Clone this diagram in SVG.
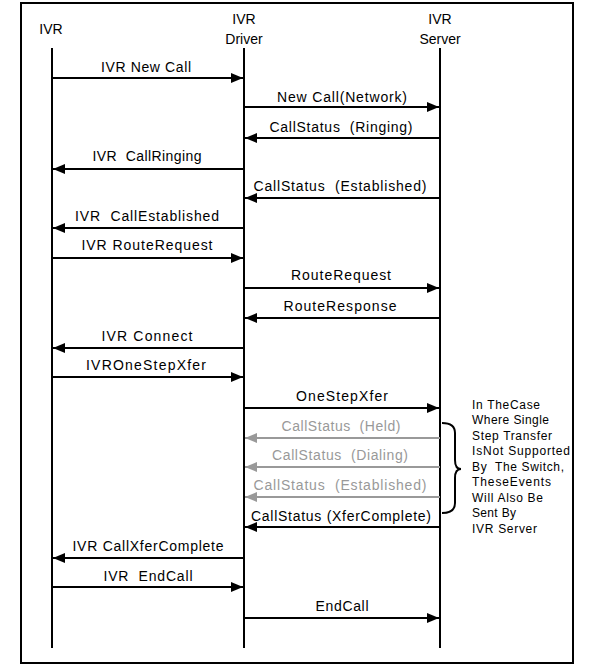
<svg xmlns="http://www.w3.org/2000/svg" width="601" height="667" viewBox="0 0 601 667">
<style>
text{font-family:"Liberation Sans",Arial,sans-serif;font-size:14px;fill:#000;white-space:pre}
.lbl{text-anchor:middle}
.g{fill:#999}
.note{font-size:12px}
.life{stroke:#000;stroke-width:2}
.a{stroke:#000;stroke-width:2;fill:none}
.ag{stroke:#999;stroke-width:2;fill:none}
</style>
<defs>
<marker id="ah" viewBox="0 0 12 10" refX="12" refY="5" markerWidth="12" markerHeight="10" markerUnits="userSpaceOnUse" orient="auto"><path d="M0,0 L12,5 L0,10 Z" fill="#000"/></marker>
<marker id="ahg" viewBox="0 0 12 10" refX="12" refY="5" markerWidth="12" markerHeight="10" markerUnits="userSpaceOnUse" orient="auto"><path d="M0,0 L12,5 L0,10 Z" fill="#999"/></marker>
</defs>
<rect x="21" y="3" width="552" height="660" fill="#fff" stroke="#000" stroke-width="2"/>
<g id="ivr">
<text class="lbl" x="51" y="34">IVR</text>
<line class="life" x1="52" y1="48" x2="52" y2="648"/>
</g>
<g id="driver">
<text class="lbl" x="244" y="24">IVR</text>
<text class="lbl" x="244" y="44">Driver</text>
<line class="life" x1="244" y1="48" x2="244" y2="648"/>
</g>
<g id="server">
<text class="lbl" x="440" y="24">IVR</text>
<text class="lbl" x="440" y="44">Server</text>
<line class="life" x1="440" y1="48" x2="440" y2="648"/>
</g>
<g id="connectors">
<line class="a" x1="52" y1="78" x2="243" y2="78" marker-end="url(#ah)"/>
<text class="lbl" x="146" y="72" textLength="90">IVR New Call</text>
<line class="a" x1="244" y1="107" x2="439" y2="107" marker-end="url(#ah)"/>
<text class="lbl" x="342" y="102" textLength="130">New Call(Network)</text>
<line class="a" x1="440" y1="138" x2="245" y2="138" marker-end="url(#ah)"/>
<text class="lbl" x="341" y="132" textLength="143">CallStatus  (Ringing)</text>
<line class="a" x1="244" y1="169" x2="53" y2="169" marker-end="url(#ah)"/>
<text class="lbl" x="147" y="161" textLength="109">IVR  CallRinging</text>
<line class="a" x1="440" y1="198" x2="245" y2="198" marker-end="url(#ah)"/>
<text class="lbl" x="340" y="191" textLength="173">CallStatus  (Established)</text>
<line class="a" x1="244" y1="228" x2="53" y2="228" marker-end="url(#ah)"/>
<text class="lbl" x="147" y="221" textLength="144">IVR  CallEstablished</text>
<line class="a" x1="52" y1="258" x2="243" y2="258" marker-end="url(#ah)"/>
<text class="lbl" x="147" y="250" textLength="131">IVR RouteRequest</text>
<line class="a" x1="244" y1="288" x2="439" y2="288" marker-end="url(#ah)"/>
<text class="lbl" x="341" y="280" textLength="100">RouteRequest</text>
<line class="a" x1="440" y1="318" x2="245" y2="318" marker-end="url(#ah)"/>
<text class="lbl" x="340" y="311" textLength="113">RouteResponse</text>
<line class="a" x1="244" y1="348" x2="53" y2="348" marker-end="url(#ah)"/>
<text class="lbl" x="147" y="341" textLength="91">IVR Connect</text>
<line class="a" x1="52" y1="377" x2="243" y2="377" marker-end="url(#ah)"/>
<text class="lbl" x="146" y="370" textLength="120">IVROneStepXfer</text>
<line class="a" x1="244" y1="408" x2="439" y2="408" marker-end="url(#ah)"/>
<text class="lbl" x="342" y="401" textLength="92">OneStepXfer</text>
<line class="ag" x1="440" y1="438" x2="245" y2="438" marker-end="url(#ahg)"/>
<text class="lbl g" x="341" y="431" textLength="119">CallStatus  (Held)</text>
<line class="ag" x1="440" y1="467" x2="245" y2="467" marker-end="url(#ahg)"/>
<text class="lbl g" x="340" y="460" textLength="136">CallStatus  (Dialing)</text>
<line class="ag" x1="440" y1="497" x2="245" y2="497" marker-end="url(#ahg)"/>
<text class="lbl g" x="340" y="490" textLength="173">CallStatus  (Established)</text>
<line class="a" x1="440" y1="527" x2="245" y2="527" marker-end="url(#ah)"/>
<text class="lbl" x="341" y="521" textLength="180">CallStatus (XferComplete)</text>
<line class="a" x1="244" y1="558" x2="53" y2="558" marker-end="url(#ah)"/>
<text class="lbl" x="148" y="551" textLength="151">IVR CallXferComplete</text>
<line class="a" x1="52" y1="587" x2="243" y2="587" marker-end="url(#ah)"/>
<text class="lbl" x="148" y="581" textLength="89">IVR  EndCall</text>
<line class="a" x1="244" y1="618" x2="439" y2="618" marker-end="url(#ah)"/>
<text class="lbl" x="342" y="611" textLength="53">EndCall</text>
</g>
<g id="note">
<path class="a" d="M442,423 Q455,423 455,433 L455,460 Q455,469 461,469 Q455,469 455,478 L455,503 Q455,513 442,513"/>
<text class="note" x="472" y="409" textLength="68">In TheCase</text>
<text class="note" x="472" y="424" textLength="77">Where Single</text>
<text class="note" x="472" y="440" textLength="80">Step Transfer</text>
<text class="note" x="472" y="455" textLength="98">IsNot Supported</text>
<text class="note" x="472" y="471" textLength="92">By  The Switch,</text>
<text class="note" x="472" y="486" textLength="79">TheseEvents</text>
<text class="note" x="472" y="502" textLength="71">Will Also Be</text>
<text class="note" x="472" y="517" textLength="44">Sent By</text>
<text class="note" x="472" y="533" textLength="65">IVR Server</text>
</g>
</svg>
